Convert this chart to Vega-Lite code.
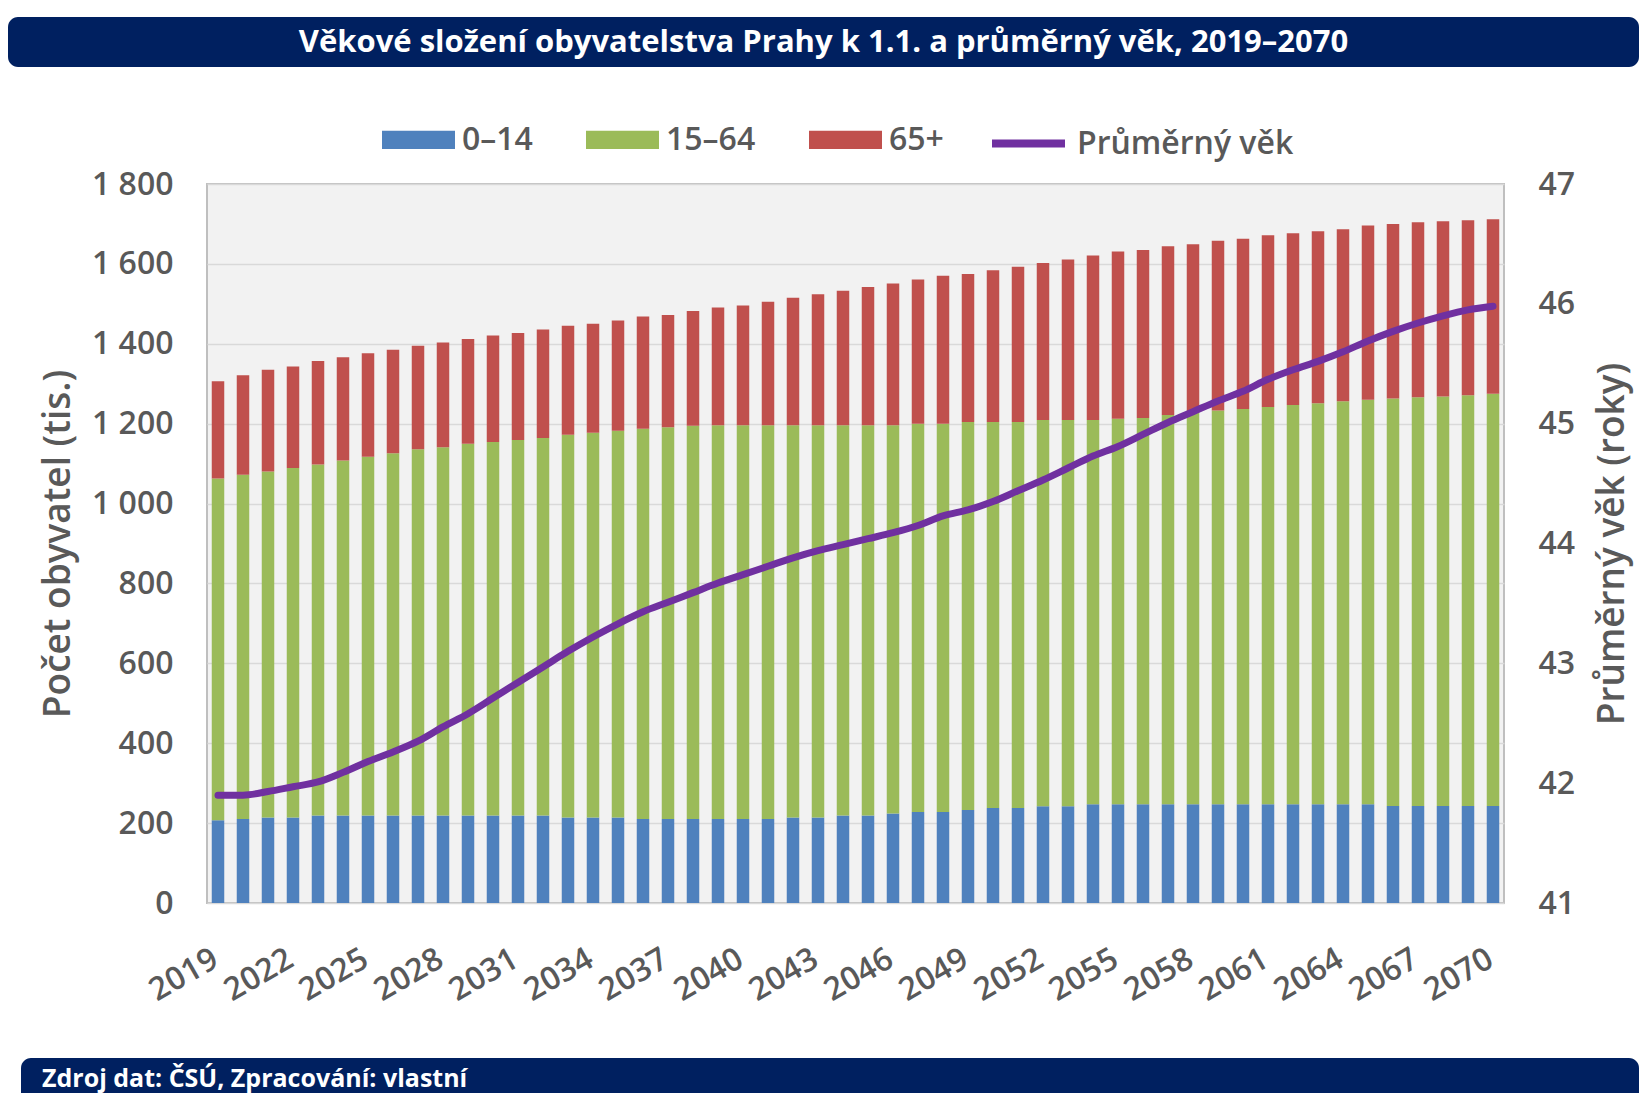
{
  "$schema": "https://vega.github.io/schema/vega-lite/v6.json",
  "background": "white",
  "padding": {"left": 8, "top": 17, "right": 0, "bottom": 0},
  "config": {"font": "Open Sans", "view": {"stroke": null}},
  "spacing": 35,
  "center": false,
  "bounds": "full",
  "resolve": {"legend": {"color": "independent", "stroke": "independent"}, "scale": {"color": "independent", "stroke": "independent"}},
  "datasets": {
    "pop": [
      {"rok": 2019, "0–14": 207, "15–64": 856, "65+": 243, "vek": 41.90},
      {"rok": 2020, "0–14": 210, "15–64": 862, "65+": 249, "vek": 41.90},
      {"rok": 2021, "0–14": 214, "15–64": 866, "65+": 255, "vek": 41.93},
      {"rok": 2022, "0–14": 214, "15–64": 875, "65+": 254, "vek": 41.97},
      {"rok": 2023, "0–14": 219, "15–64": 879, "65+": 259, "vek": 42.01},
      {"rok": 2024, "0–14": 219, "15–64": 889, "65+": 258, "vek": 42.09},
      {"rok": 2025, "0–14": 219, "15–64": 898, "65+": 259, "vek": 42.18},
      {"rok": 2026, "0–14": 219, "15–64": 907, "65+": 259, "vek": 42.26},
      {"rok": 2027, "0–14": 219, "15–64": 917, "65+": 259, "vek": 42.35},
      {"rok": 2028, "0–14": 219, "15–64": 922, "65+": 262, "vek": 42.47},
      {"rok": 2029, "0–14": 219, "15–64": 931, "65+": 262, "vek": 42.58},
      {"rok": 2030, "0–14": 219, "15–64": 935, "65+": 267, "vek": 42.71},
      {"rok": 2031, "0–14": 219, "15–64": 940, "65+": 268, "vek": 42.84},
      {"rok": 2032, "0–14": 219, "15–64": 945, "65+": 272, "vek": 42.97},
      {"rok": 2033, "0–14": 214, "15–64": 958, "65+": 273, "vek": 43.10},
      {"rok": 2034, "0–14": 214, "15–64": 963, "65+": 273, "vek": 43.22},
      {"rok": 2035, "0–14": 214, "15–64": 968, "65+": 276, "vek": 43.33},
      {"rok": 2036, "0–14": 210, "15–64": 977, "65+": 281, "vek": 43.43},
      {"rok": 2037, "0–14": 210, "15–64": 981, "65+": 281, "vek": 43.51},
      {"rok": 2038, "0–14": 210, "15–64": 985, "65+": 287, "vek": 43.59},
      {"rok": 2039, "0–14": 210, "15–64": 986, "65+": 295, "vek": 43.67},
      {"rok": 2040, "0–14": 210, "15–64": 986, "65+": 300, "vek": 43.74},
      {"rok": 2041, "0–14": 210, "15–64": 986, "65+": 309, "vek": 43.81},
      {"rok": 2042, "0–14": 214, "15–64": 982, "65+": 319, "vek": 43.88},
      {"rok": 2043, "0–14": 214, "15–64": 982, "65+": 328, "vek": 43.94},
      {"rok": 2044, "0–14": 219, "15–64": 977, "65+": 337, "vek": 43.99},
      {"rok": 2045, "0–14": 219, "15–64": 977, "65+": 346, "vek": 44.04},
      {"rok": 2046, "0–14": 224, "15–64": 972, "65+": 355, "vek": 44.09},
      {"rok": 2047, "0–14": 228, "15–64": 972, "65+": 361, "vek": 44.15},
      {"rok": 2048, "0–14": 228, "15–64": 972, "65+": 370, "vek": 44.23},
      {"rok": 2049, "0–14": 233, "15–64": 971, "65+": 371, "vek": 44.28},
      {"rok": 2050, "0–14": 238, "15–64": 966, "65+": 380, "vek": 44.35},
      {"rok": 2051, "0–14": 238, "15–64": 966, "65+": 389, "vek": 44.44},
      {"rok": 2052, "0–14": 242, "15–64": 967, "65+": 393, "vek": 44.53},
      {"rok": 2053, "0–14": 242, "15–64": 967, "65+": 402, "vek": 44.63},
      {"rok": 2054, "0–14": 247, "15–64": 962, "65+": 412, "vek": 44.73},
      {"rok": 2055, "0–14": 247, "15–64": 965, "65+": 419, "vek": 44.81},
      {"rok": 2056, "0–14": 247, "15–64": 967, "65+": 421, "vek": 44.91},
      {"rok": 2057, "0–14": 247, "15–64": 975, "65+": 422, "vek": 45.01},
      {"rok": 2058, "0–14": 247, "15–64": 981, "65+": 421, "vek": 45.10},
      {"rok": 2059, "0–14": 247, "15–64": 986, "65+": 425, "vek": 45.19},
      {"rok": 2060, "0–14": 247, "15–64": 990, "65+": 426, "vek": 45.27},
      {"rok": 2061, "0–14": 247, "15–64": 995, "65+": 430, "vek": 45.37},
      {"rok": 2062, "0–14": 247, "15–64": 1000, "65+": 430, "vek": 45.45},
      {"rok": 2063, "0–14": 247, "15–64": 1004, "65+": 431, "vek": 45.52},
      {"rok": 2064, "0–14": 247, "15–64": 1009, "65+": 431, "vek": 45.60},
      {"rok": 2065, "0–14": 247, "15–64": 1013, "65+": 436, "vek": 45.69},
      {"rok": 2066, "0–14": 243, "15–64": 1020, "65+": 437, "vek": 45.77},
      {"rok": 2067, "0–14": 243, "15–64": 1023, "65+": 438, "vek": 45.84},
      {"rok": 2068, "0–14": 243, "15–64": 1025, "65+": 439, "vek": 45.90},
      {"rok": 2069, "0–14": 243, "15–64": 1028, "65+": 438, "vek": 45.95},
      {"rok": 2070, "0–14": 243, "15–64": 1032, "65+": 437, "vek": 45.98}
    ]
  },
  "vconcat": [
    {
      "width": 1631,
      "height": 50,
      "view": {"fill": "#002060", "stroke": null, "cornerRadius": 10},
      "data": {"values": [{"t": "Věkové složení obyvatelstva Prahy k 1.1. a průměrný věk, 2019–2070"}]},
      "mark": {"type": "text", "color": "white", "fontSize": 31, "fontWeight": "bold", "baseline": "middle", "align": "center", "dy": 1},
      "encoding": {"text": {"field": "t"}}
    },
    {
      "spacing": 44,
      "center": false,
      "bounds": "full",
      "resolve": {"legend": {"color": "independent", "stroke": "independent"}, "scale": {"color": "independent", "stroke": "independent"}},
      "vconcat": [
        {
          "spacing": 29,
          "bounds": "full",
          "resolve": {"legend": {"color": "independent", "stroke": "independent"}, "scale": {"color": "independent", "stroke": "independent"}},
          "hconcat": [
            {
              "width": 1,
              "height": 1,
              "data": {"values": [{"t": ""}]},
              "mark": {"type": "text"},
              "encoding": {"text": {"field": "t"}}
            },
            {
              "width": 1297,
              "height": 719,
              "view": {"fill": "#f2f2f2", "stroke": "#bfbfbf", "strokeWidth": 2},
              "data": {"name": "pop"},
              "layer": [
                {
                  "transform": [{"fold": ["0–14", "15–64", "65+"], "as": ["skupina", "pocet"]}],
                  "mark": {"type": "bar"},
                  "encoding": {
                    "x": {
                      "field": "rok", "type": "ordinal",
                      "scale": {"paddingInner": 0.5, "paddingOuter": 0.19},
                      "axis": {
                        "title": null,
                        "values": [2019, 2022, 2025, 2028, 2031, 2034, 2037, 2040, 2043, 2046, 2049, 2052, 2055, 2058, 2061, 2064, 2067, 2070],
                        "labelAngle": -30, "labelFontSize": 32, "labelFontWeight": 600, "labelColor": "#595959",
                        "ticks": false, "domain": false, "labelPadding": 40, "labelOffset": -10
                      }
                    },
                    "y": {
                      "field": "pocet", "type": "quantitative", "stack": "zero",
                      "scale": {"domain": [0, 1800], "nice": false},
                      "axis": {
                        "values": [0, 200, 400, 600, 800, 1000, 1200, 1400, 1600, 1800],
                        "labelExpr": "datum.value >= 1000 ? floor(datum.value / 1000) + ' ' + format(datum.value % 1000, '03d') : format(datum.value, 'd')",
                        "labelFontSize": 32, "labelFontWeight": 600, "labelColor": "#595959", "labelPadding": 34,
                        "ticks": false, "domain": false,
                        "grid": true, "gridColor": "#d9d9d9", "gridWidth": 1.5,
                        "title": "Počet obyvatel (tis.)", "titleFontSize": 37, "titleColor": "#595959",
                        "titleFontWeight": 600, "titlePadding": 14
                      }
                    },
                    "color": {
                      "field": "skupina", "type": "nominal",
                      "scale": {"domain": ["0–14", "15–64", "65+"], "range": ["#4f81bd", "#9bbb59", "#c0504d"]},
                      "legend": {
                        "title": null, "orient": "none", "legendX": 175, "legendY": -81,
                        "direction": "horizontal",
                        "symbolType": "M-1,-0.25H1V0.25H-1Z", "symbolSize": 5329, "symbolStrokeWidth": 0,
                        "labelFontSize": 32, "labelFontWeight": 600, "labelColor": "#595959", "labelOffset": 7,
                        "columnPadding": 53, "padding": 0
                      }
                    },
                    "order": {"field": "skupina", "type": "nominal", "sort": "ascending"}
                  }
                },
                {
                  "mark": {"type": "line", "strokeWidth": 7, "interpolate": "monotone", "strokeCap": "round"},
                  "encoding": {
                    "x": {"field": "rok", "type": "ordinal", "bandPosition": 0.5},
                    "y": {
                      "field": "vek", "type": "quantitative",
                      "scale": {"domain": [41, 47], "nice": false},
                      "axis": {
                        "orient": "right",
                        "values": [41, 42, 43, 44, 45, 46, 47],
                        "labelFontSize": 32, "labelFontWeight": 600, "labelColor": "#595959", "labelPadding": 34,
                        "ticks": false, "domain": false, "grid": false,
                        "title": "Průměrný věk (roky)", "titleFontSize": 37, "titleColor": "#595959",
                        "titleFontWeight": 600, "titleAngle": -90, "titleBaseline": "top", "titlePadding": 20
                      }
                    },
                    "stroke": {
                      "datum": "Průměrný věk", "type": "nominal",
                      "scale": {"domain": ["Průměrný věk"], "range": ["#7030a0"]},
                      "legend": {
                        "title": null, "orient": "none", "legendX": 781, "legendY": -81,
                        "symbolType": "stroke", "symbolSize": 5329, "symbolStrokeWidth": 8,
                        "labelFontSize": 32, "labelFontWeight": 600, "labelColor": "#595959", "labelOffset": 8, "labelLimit": 400, "padding": 0
                      }
                    }
                  }
                }
              ],
              "resolve": {"scale": {"y": "independent"}}
            }
          ]
        },
        {
          "spacing": 12,
          "bounds": "full",
          "hconcat": [
            {
              "width": 1,
              "height": 1,
              "data": {"values": [{"t": ""}]},
              "mark": {"type": "text"},
              "encoding": {"text": {"field": "t"}}
            },
            {
              "width": 1618,
              "height": 50,
              "view": {"fill": "#002060", "stroke": null, "cornerRadius": 10},
              "data": {"values": [{"t": "Zdroj dat: ČSÚ, Zpracování: vlastní"}]},
              "mark": {"type": "text", "color": "white", "fontSize": 25, "fontWeight": "bold", "baseline": "alphabetic", "align": "left", "dx": 21, "dy": 4},
              "encoding": {
                "text": {"field": "t"},
                "x": {"datum": 0, "type": "quantitative", "scale": {"domain": [0, 1]}, "axis": null}
              }
            }
          ]
        }
      ]
    }
  ]
}
